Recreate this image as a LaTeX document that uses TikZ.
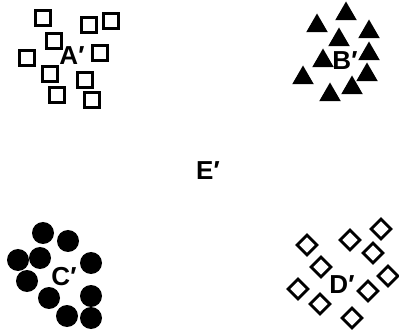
\documentclass[tikz,border=0pt]{standalone}
\usepackage{fontspec}
\setmainfont{Liberation Sans}
\usetikzlibrary{shapes.geometric}

\tikzset{
  box/.style={draw, line width=3pt, minimum size=15pt, inner sep=0pt},
  tri/.style={regular polygon, regular polygon sides=3, fill, minimum size=25pt, inner sep=0pt},
  dot/.style={circle, fill, minimum size=22pt, inner sep=0pt},
  rhomb/.style={diamond, draw, line width=2.8pt, minimum width=21pt, minimum height=21pt, inner sep=0pt},
  lbl/.style={font=\fontsize{26}{26}\selectfont\bfseries, inner sep=0pt}
}

\begin{document}
\begin{tikzpicture}[x=1pt, y=-1pt]
\useasboundingbox (0,0) rectangle (399,331);

% cluster A: open squares
\foreach \x/\y [count=\i] in {43/18, 111/21, 89/25, 54/41, 100/53, 27/58, 50/74, 85/80, 57/95, 92/100}
  \node[box] (a\i) at (\x,\y) {};
\node[lbl] (A) at (72,56) {A′};

% cluster B: filled triangles
\foreach \x/\y [count=\i] in {346/14, 317/26, 369/32, 339/40, 369/54, 323/61, 367/75, 303/78, 352/88, 330/95}
  \node[tri] (b\i) at (\x,\y) {};
\node[lbl] (B) at (345,61) {B′};

% cluster C: filled dots
\foreach \x/\y [count=\i] in {43/233, 68/241, 18/260, 40/258, 91/263, 27/281, 49/298, 91/296, 67/316, 91/318}
  \node[dot] (c\i) at (\x,\y) {};
\node[lbl] (C) at (64,277) {C′};

% cluster D: open diamonds
\foreach \x/\y [count=\i] in {381/229, 350/240, 307/245, 373/253, 321/267, 388/276, 298/289, 368/291, 320/304, 352/318}
  \node[rhomb] (d\i) at (\x,\y) {};
\node[lbl] (D) at (342,285) {D′};

% centre
\node[lbl] (E) at (208,171) {E′};

\end{tikzpicture}
\end{document}
